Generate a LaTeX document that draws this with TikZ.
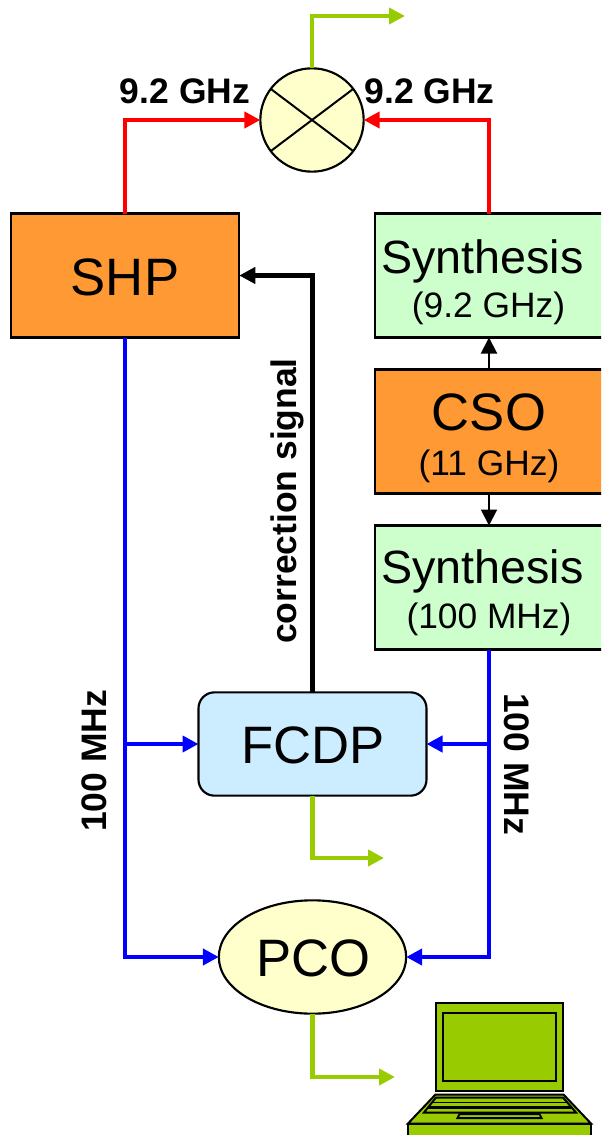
\documentclass[tikz,border=0pt]{standalone}
\usepackage{fontspec}
\setmainfont{Liberation Sans}
\usetikzlibrary{arrows.meta,shapes.geometric}
\definecolor{cOrange}{HTML}{FF9933}
\definecolor{cMint}{HTML}{CCFFCC}
\definecolor{cSky}{HTML}{CCECFF}
\definecolor{cCream}{HTML}{FFFFCC}
\definecolor{cLime}{HTML}{99CC00}
\tikzset{
  x=0.75pt,y=-0.75pt,
  every node/.style={inner sep=0pt,outer sep=0pt},
  bx/.style={draw=black,line width=1.6pt,rectangle,minimum width=171.4pt,minimum height=93pt},
  big/.style={anchor=base,font=\fontsize{39.5}{39.5}\selectfont},
  syn/.style={anchor=base,font=\fontsize{35}{35}\selectfont},
  sm/.style={anchor=base,font=\fontsize{26.5}{26.5}\selectfont},
  lab/.style={anchor=base,font=\fontsize{26.6}{26.6}\selectfont\bfseries},
  tip/.style={-{Triangle[length=12pt,width=12pt]}},
  wire/.style={tip,line width=3.3pt},
  lap/.style={draw=black,line width=1.5pt,fill=cLime,line join=miter},
}
\begin{document}
\begin{tikzpicture}
\path[use as bounding box] (0,0) rectangle (601,1135);
\clip (0,0) rectangle (601,1135);
% blocks
\node[bx,fill=cOrange] (shp) at (125,275.5) {};
\node[bx,fill=cMint] (synA) at (489,275.5) {};
\node[bx,fill=cOrange] (cso) at (489,431.5) {};
\node[bx,fill=cMint] (synB) at (489,587.5) {};
\node[draw=black,line width=1.6pt,fill=cSky,rectangle,rounded corners=12pt,minimum width=171pt,minimum height=77.5pt] (fcdp) at (312.5,744) {};
\node[draw=black,line width=1.6pt,fill=cCream,ellipse,minimum width=140.5pt,minimum height=85pt] (pco) at (312.5,957) {};
\node[draw=black,line width=1.6pt,fill=cCream,circle,minimum size=77.5pt] (mix) at (312,120) {};
\draw[line width=1.5pt] (mix.143) -- (mix.323);
\draw[line width=1.5pt] (mix.37) -- (mix.217);
% block texts
\node[big] (tShp) at (125,295) {SHP};
\node[syn] (tSynA) at (482.5,273) {Synthesis};
\node[sm] (tSynAf) at (488.5,317) {(9.2 GHz)};
\node[big] (tCso) at (489,430) {CSO};
\node[sm] (tCsof) at (489,475) {(11 GHz)};
\node[syn] (tSynB) at (482.5,583) {Synthesis};
\node[sm] (tSynBf) at (489,628) {(100 MHz)};
\node[big] (tFcdp) at (313,763) {FCDP};
\node[big] (tPco) at (313.5,976) {PCO};
% labels
\node[lab] (lL) at (185,103) {9.2 GHz};
\node[lab] (lR) at (429.5,103) {9.2 GHz};
\node[lab,rotate=90] (lCorr) at (296,501) {correction signal};
\node[lab,rotate=90] (l100L) at (106,761) {100 MHz};
\node[lab,rotate=-90] (l100R) at (504,764) {100 MHz};
% free ends
\coordinate (outMix) at (405,16);
\coordinate (outFcdp) at (384,858);
\coordinate (outPco) at (395,1077);
\coordinate (jL) at (125,744);
\coordinate (jR) at (489,744);
% red
\draw[wire,red] (shp.north) |- (mix.west);
\draw[wire,red] (synA.north) |- (mix.east);
% lime
\draw[wire,cLime] (mix.north) |- (outMix);
\draw[wire,cLime] (fcdp.south) |- (outFcdp);
\draw[wire,cLime] (pco.south) |- (outPco);
% black
\draw[wire,black] (fcdp.north) |- (shp.east);
\draw[tip,line width=1.5pt] (cso.north) -- (synA.south);
\draw[tip,line width=1.5pt] (cso.south) -- (synB.north);
% blue
\draw[wire,blue] (shp.south) |- (pco.west);
\draw[wire,blue] (synB.south) |- (pco.east);
\draw[wire,blue] (jL) -- (fcdp.west);
\draw[wire,blue] (jR) -- (fcdp.east);
% laptop
\draw[lap] (436,1003) rectangle (563,1091);
\draw[lap] (443,1012.5) rectangle (556,1081);
\draw[lap] (408,1123.5) -- (435.5,1094.5) -- (563.5,1094.5) -- (591,1123.5) -- cycle;
\draw[lap] (408,1123.5) rectangle (591,1140);
\draw[lap] (424,1112.5) -- (436,1097.5) -- (563,1097.5) -- (576,1112.5) -- cycle;
\draw[line width=1pt] (432,1102.5) -- (567,1102.5);
\draw[line width=2pt] (428,1107.5) -- (571,1107.5);
\draw[lap] (457.5,1118) -- (459.5,1114) -- (539.5,1114) -- (541.5,1118) -- cycle;
\end{tikzpicture}
\end{document}
